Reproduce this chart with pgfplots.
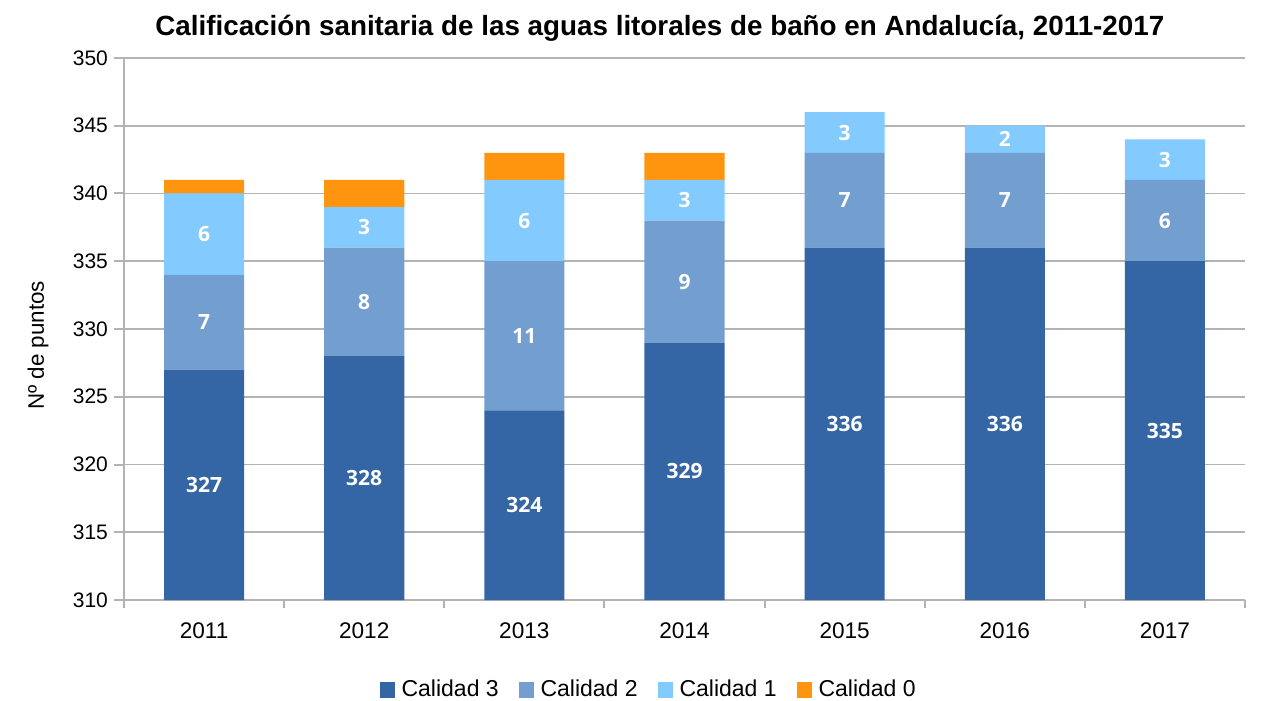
\documentclass[border=0pt]{standalone}
\usepackage{pgfplots}
\pgfplotsset{compat=1.18}
\usepackage{pgfplotstable}
\usepackage{fontspec}
\setmainfont{Liberation Sans}
\newfontfamily\labfont{Open Sans}
\definecolor{cthree}{HTML}{3465A4}
\definecolor{ctwo}{HTML}{729FCF}
\definecolor{cone}{HTML}{83CAFF}
\definecolor{czero}{HTML}{FF950E}
\definecolor{gridc}{HTML}{B3B3B3}
\pgfplotstableread{
x c3 c2 c1 c0
0 327 7 6 1
1 328 8 3 2
2 324 11 6 2
3 329 9 3 2
4 336 7 3 0
5 336 7 2 0
6 335 6 3 0
}\datatab
\pgfplotstableread{
x y label
0 318.5 327
1 319 328
2 317 324
3 319.5 329
4 323 336
5 323 336
6 322.5 335
0 330.5 7
1 332 8
2 329.5 11
3 333.5 9
4 339.5 7
5 339.5 7
6 338 6
0 337 6
1 337.5 3
2 338 6
3 339.5 3
4 344.5 3
5 344 2
6 342.5 3
}\labtab
\begin{document}
\begin{tikzpicture}
\path[use as bounding box] (-62pt,-50pt) rectangle (568.5pt,300pt);
\pgfplotsset{
  common/.style={
    at={(0,0)}, anchor=south west,
    scale only axis, width=560.5pt, height=271pt,
    xmin=-0.5, xmax=6.5, ymin=310, ymax=350,
  }
}
\begin{axis}[common,
  ybar stacked, bar width=0.5,
  xtick={0,...,6},
  xticklabels={2011,2012,2013,2014,2015,2016,2017},
  minor xtick={-0.5,0.5,...,6.5},
  ytick={310,315,...,350},
  ymajorgrids, grid style={gridc, line width=0.8pt},
  axis line style={gridc, line width=1pt},
  axis x line*=bottom, axis y line*=left,
  tick align=outside,
  tick style={gridc, line width=1pt},
  major tick length=5pt, minor tick length=4pt,
  xtick style={draw=none},
  minor x tick style={gridc, line width=1pt, draw=gridc},
  yticklabel style={font=\fontsize{10.5}{12}\selectfont, xshift=0.5pt},
  xticklabel style={font=\fontsize{11.3}{12}\selectfont, yshift=-3pt},
  /pgf/number format/assume math mode=true,
  /pgf/number format/1000 sep={},
  legend style={at={(0.469,-0.166)}, anchor=center, draw=none, fill=none,
    legend columns=4, font=\fontsize{11.5}{12}\selectfont,
    /tikz/every even column/.append style={column sep=8pt},
    /tikz/every odd column/.append style={column sep=1.5pt},
    inner sep=0pt},
  legend image code/.code={\fill[#1] (0pt,-3.8pt) rectangle (7.4pt,3.8pt);},
  legend cell align=left,
  clip mode=individual,
]
\addplot[fill=cthree, draw=none] table[x=x,y=c3] {\datatab};
\addplot[fill=ctwo, draw=none] table[x=x,y=c2] {\datatab};
\addplot[fill=cone, draw=none] table[x=x,y=c1] {\datatab};
\addplot[fill=czero, draw=none] table[x=x,y=c0] {\datatab};
\legend{Calidad 3, Calidad 2, Calidad 1, Calidad 0}
\end{axis}
\begin{axis}[common, hide axis, clip=false]
\addplot[only marks, mark=none, nodes near coords, point meta=explicit symbolic,
  nodes near coords style={anchor=center, text=white, font=\labfont\bfseries\fontsize{10.5}{12}\selectfont}]
  table[x=x, y=y, meta=label] {\labtab};
\node[font=\bfseries\fontsize{13.9}{15}\selectfont] at (rel axis cs:0.478,1.055) {Calificación sanitaria de las aguas litorales de baño en Andalucía, 2011-2017};
\node[rotate=90, font=\fontsize{11.2}{12}\selectfont] at (rel axis cs:-0.0767,0.47) {Nº de puntos};
\end{axis}
\end{tikzpicture}
\end{document}
